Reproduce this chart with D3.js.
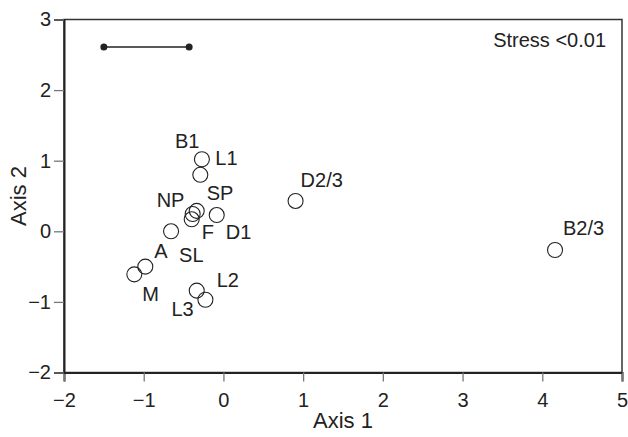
<!DOCTYPE html>
<html>
<head>
<meta charset="utf-8">
<script src="https://cdn.jsdelivr.net/npm/d3@7"></script>
<style>
  body { margin: 0; background: #fff; }
  svg { display: block; }
  text { font-family: "Liberation Sans", Arial, Helvetica, sans-serif; fill: #222; }
</style>
</head>
<body>
<svg id="chart" width="628" height="437"></svg>
<script>
// ---- data ----
const sites  = ["B1", "L1", "SP", "NP", "F", "D1", "SL", "A", "M", "L2", "L3", "D2/3", "B2/3"];
const axis1  = [-0.27, -0.29, -0.335, -0.386, -0.398, -0.084, -0.657, -0.98, -1.118, -0.335, -0.226, 0.905, 4.16];
const axis2  = [1.02, 0.80, 0.29, 0.245, 0.17, 0.23, 0.0, -0.50, -0.61, -0.84, -0.97, 0.43, -0.265];
const xTicks = [-2, -1, 0, 1, 2, 3, 4, 5];
const yTicks = [-2, -1, 0, 1, 2, 3];
const scaleBarX = [-1.5, -0.43];
const scaleBarY = 2.61;
const stressText = "Stress <0.01";

// label placement (pixel offsets from point centre to text start / baseline)
const labelOffset = {
  "B1": [-27, -11], "L1": [15, -10], "SP": [10, -11], "NP": [-36, -7],
  "F": [10, 20], "D1": [9, 24], "SL": [8, 31], "A": [9, -9], "M": [8, 27],
  "L2": [20, -4], "L3": [-34, 16], "D2/3": [5, -14], "B2/3": [8, -15]
};

// ---- layout ----
const svg = d3.select("#chart");
const mL = 64, mR = 622, mT = 19.5, mB = 372.5;

const x = d3.scaleLinear().domain([-2, 5]).range([mL, mR]);
const y = d3.scaleLinear().domain([-2, 3]).range([mB, mT]);

const fmt = d => d < 0 ? "\u2212" + Math.abs(d) : String(d);

// frame (top/right)
svg.append("rect")
  .attr("x", mL).attr("y", mT)
  .attr("width", mR - mL).attr("height", mB - mT)
  .attr("fill", "none").attr("stroke", "#333").attr("stroke-width", 1.5);

// x axis
const gx = svg.append("g")
  .attr("transform", `translate(0,${mB})`)
  .call(d3.axisBottom(x).tickValues(xTicks).tickFormat(fmt).tickSize(9).tickPadding(11));
gx.select(".domain").attr("stroke", "#222").attr("stroke-width", 2);
gx.selectAll(".tick line").attr("stroke", "#777").attr("stroke-width", 1.3);
gx.selectAll(".tick text").style("font-size", "20px").attr("fill", "#222")
  .attr("font-family", "Liberation Sans, Arial, sans-serif");

// y axis
const gy = svg.append("g")
  .attr("transform", `translate(${mL},0)`)
  .call(d3.axisLeft(y).tickValues(yTicks).tickFormat(fmt).tickSize(10).tickPadding(3));
gy.select(".domain").attr("stroke", "#222").attr("stroke-width", 2);
gy.selectAll(".tick line").attr("stroke", "#777").attr("stroke-width", 1.3);
gy.selectAll(".tick text").style("font-size", "20px").attr("fill", "#222")
  .attr("font-family", "Liberation Sans, Arial, sans-serif");

// axis titles
svg.append("text")
  .attr("x", (mL + mR) / 2).attr("y", 428)
  .attr("text-anchor", "middle")
  .style("font-size", "22px")
  .text("Axis 1");

svg.append("text")
  .attr("transform", `translate(26,${(mT + mB) / 2}) rotate(-90)`)
  .attr("text-anchor", "middle")
  .style("font-size", "22px")
  .text("Axis 2");

// scale bar
svg.append("line")
  .attr("x1", x(scaleBarX[0])).attr("x2", x(scaleBarX[1]))
  .attr("y1", y(scaleBarY)).attr("y2", y(scaleBarY))
  .attr("stroke", "#222").attr("stroke-width", 1.5);
svg.selectAll("circle.bar").data(scaleBarX).enter().append("circle")
  .attr("class", "bar")
  .attr("cx", d => x(d)).attr("cy", y(scaleBarY)).attr("r", 3.5)
  .attr("fill", "#222");

// stress
svg.append("text")
  .attr("x", 606).attr("y", 47)
  .attr("text-anchor", "end")
  .style("font-size", "20px")
  .text(stressText);

// points
const pts = sites.map((s, i) => ({ s, a: axis1[i], b: axis2[i] }));
svg.selectAll("circle.pt").data(pts).enter().append("circle")
  .attr("class", "pt")
  .attr("cx", d => x(d.a)).attr("cy", d => y(d.b)).attr("r", 7.5)
  .attr("fill", "none").attr("stroke", "#222").attr("stroke-width", 1.1);

svg.selectAll("text.lbl").data(pts).enter().append("text")
  .attr("class", "lbl")
  .attr("x", d => x(d.a) + labelOffset[d.s][0])
  .attr("y", d => y(d.b) + labelOffset[d.s][1])
  .style("font-size", "20px")
  .text(d => d.s);
</script>
</body>
</html>
